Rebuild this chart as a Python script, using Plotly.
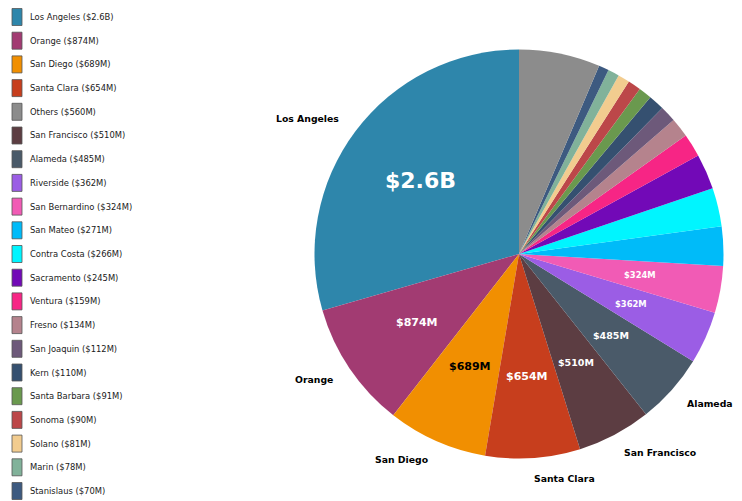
import math
import plotly.graph_objects as go

# ---- data (values in $M) ----
counties = ["Los Angeles", "Orange", "San Diego", "Santa Clara", "San Francisco",
            "Alameda", "Riverside", "San Bernardino", "San Mateo", "Contra Costa",
            "Sacramento", "Ventura", "Fresno", "San Joaquin", "Kern",
            "Santa Barbara", "Sonoma", "Solano", "Marin", "Stanislaus", "Others"]
values_m = [2575, 874, 689, 654, 510, 485, 362, 324, 271, 266, 245, 159, 134,
            112, 110, 91, 90, 81, 78, 70, 560]
colors = ["#2E86AB", "#A23B72", "#F18F01", "#C73E1D", "#5C3D42", "#4A5A69",
          "#9B5DE5", "#F15BB5", "#00BBF9", "#00F5FF", "#7209B7", "#F72585",
          "#B5838D", "#6D597A", "#355070", "#6A994E", "#BC4749", "#F2CC8F",
          "#81B29A", "#3D5A80", "#8C8C8C"]


def money(v):
    return f"${v/1000:.1f}B" if v >= 1000 else f"${v:.0f}M"


# page body has an 8px margin, so the figure is drawn 8px in from the window edge
OFF = 8
W, H = 742 - OFF, 501 - OFF
CX, CY, R = 519.0 - OFF, 254.0 - OFF, 204.5   # pie centre / radius in figure pixels

total = sum(values_m)

fig = go.Figure()
fig.add_trace(go.Pie(
    labels=counties, values=values_m, sort=False, direction="counterclockwise",
    rotation=-360 * values_m[0] / total,
    marker=dict(colors=colors, line=dict(width=0)),
    textinfo="none", showlegend=False,
    domain=dict(x=[(CX - R) / W, (CX + R) / W], y=[1 - (CY + R) / H, 1 - (CY - R) / H]),
))

ann = []
shapes = []
cum = 0.0
rank = sorted(range(len(values_m)), key=lambda i: -values_m[i])
top_named = [i for i in rank if counties[i] != "Others"]


def lum(hexc):
    r, g, b = int(hexc[1:3], 16), int(hexc[3:5], 16), int(hexc[5:7], 16)
    return 0.299 * r + 0.587 * g + 0.114 * b


for i, (name, v) in enumerate(zip(counties, values_m)):
    share = v / total
    mid = (cum + share / 2) * 2 * math.pi
    cum += share
    sx, sy = -math.sin(mid), -math.cos(mid)
    if name != "Others" and top_named.index(i) < 8:
        size = 22 if share > 0.2 else 11 if share > 0.07 else 9.5 if share > 0.05 else 8.4
        px, py = CX + sx * 0.6 * R, CY + sy * 0.6 * R
        ann.append(dict(x=px / W, y=1 - py / H, xref="paper", yref="paper",
                        text=money(v), showarrow=False, xanchor="center", yanchor="middle",
                        font=dict(size=size, weight="bold",
                                  color="black" if lum(colors[i]) > 150 else "white")))
    if name != "Others" and top_named.index(i) < 6:
        px, py = CX + sx * 1.1 * R, CY + sy * 1.1 * R
        ann.append(dict(x=px / W, y=1 - py / H, xref="paper", yref="paper",
                        text=name, showarrow=False, borderpad=0, borderwidth=0,
                        xanchor="left" if sx > 0 else "right", yanchor="middle",
                        font=dict(size=9.3, weight="bold", color="black")))

# ---- legend (sorted by value) ----
for k, i in enumerate(rank):
    yc = 17 - OFF + k * 23.7
    x0 = 12 - OFF
    shapes.append(dict(type="rect", xref="paper", yref="paper",
                       x0=x0 / W, x1=(x0 + 10) / W, y0=1 - (yc + 8.5) / H, y1=1 - (yc - 8.5) / H,
                       fillcolor=colors[i], line=dict(color="#555555", width=0.8)))
    ann.append(dict(x=(x0 + 16) / W, y=1 - yc / H, xref="paper", yref="paper",
                    text=f"{counties[i]} ({money(values_m[i])})", showarrow=False,
                    xanchor="left", yanchor="middle",
                    font=dict(size=8.4, color="#1a1a1a")))

fig.update_layout(
    width=W, height=H, margin=dict(l=0, r=0, t=0, b=0),
    paper_bgcolor="white", plot_bgcolor="white", showlegend=False,
    font=dict(family="DejaVu Sans"), annotations=ann, shapes=shapes,
)
fig.write_html("out.html")
